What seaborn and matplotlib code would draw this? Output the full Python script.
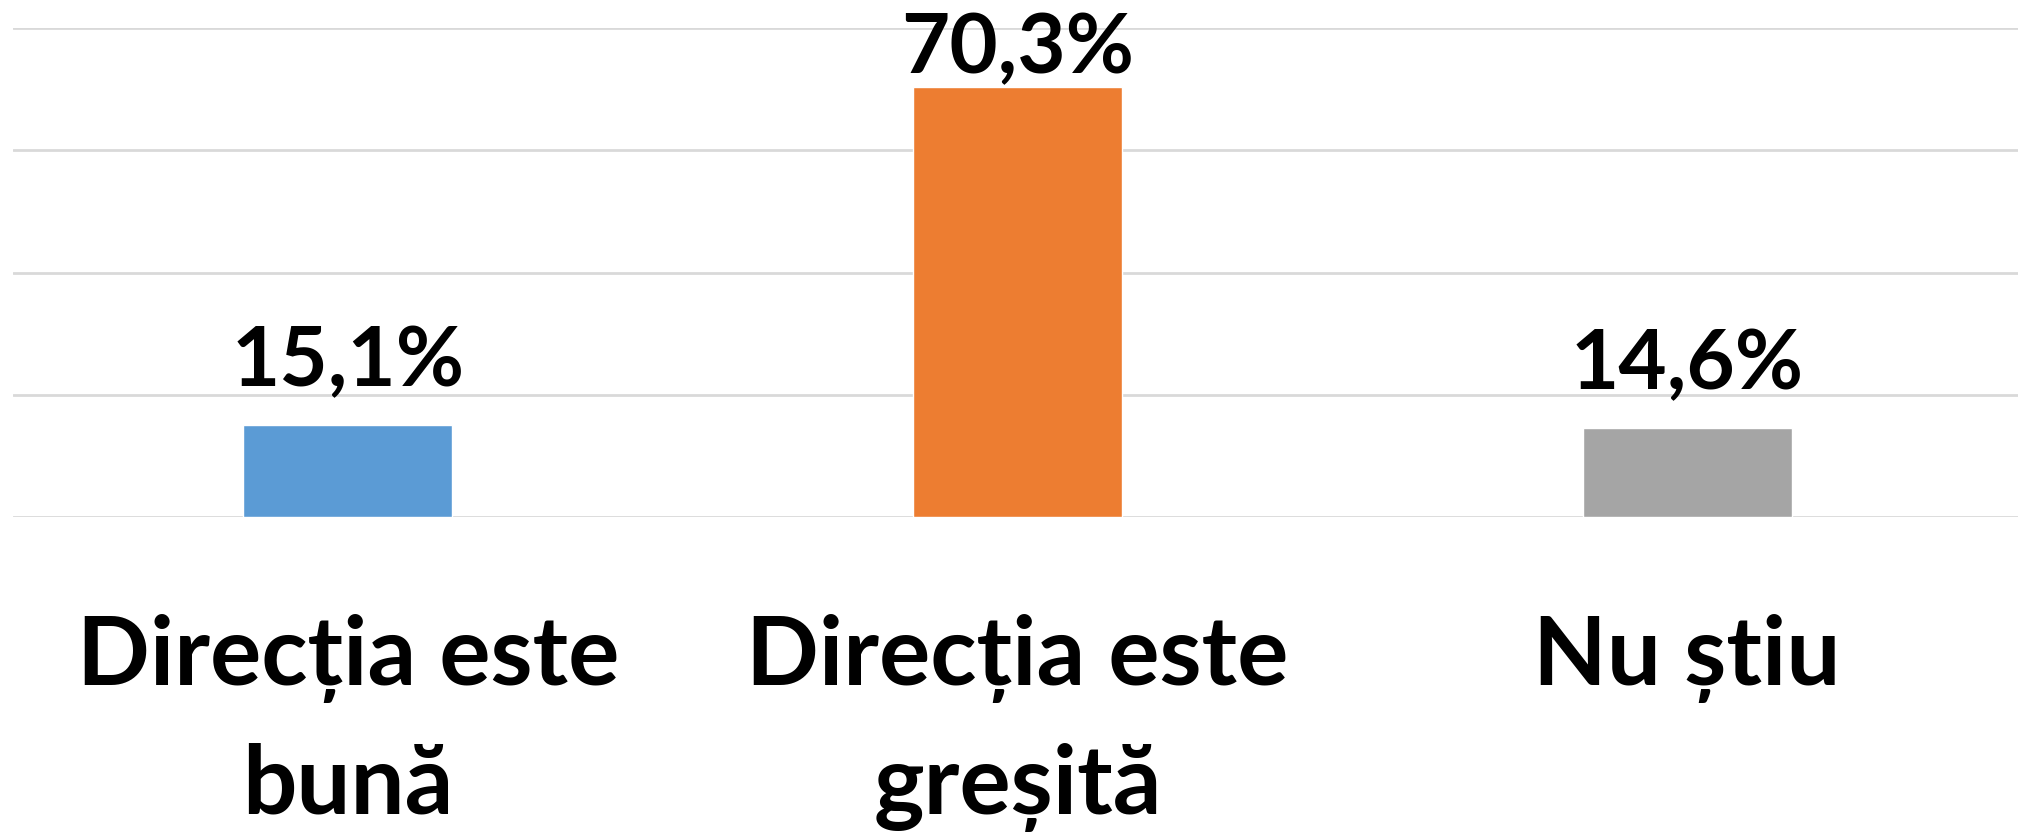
import matplotlib
matplotlib.use("Agg")
import matplotlib.pyplot as plt
import seaborn as sns
import pandas as pd

categories = ["Direcția este\nbună", "Direcția este\ngreșită", "Nu știu"]
values = [15.1, 70.3, 14.6]
value_labels = ["15,1%", "70,3%", "14,6%"]
colors = ["#5B9BD5", "#ED7D31", "#A5A5A5"]

sns.set_theme(style="white")
plt.rcParams["font.family"] = ["Lato", "DejaVu Sans"]

W, H, DPI = 2018, 835, 100
fig = plt.figure(figsize=(W / DPI, H / DPI), dpi=DPI)
ax = fig.add_axes([13 / W, 1 - 517 / H, 2009 / W, (517 - 28) / H])

df = pd.DataFrame({"cat": categories, "val": values})
sns.barplot(data=df, x="cat", y="val", hue="cat", palette=colors,
            width=0.312, legend=False, ax=ax, saturation=1, zorder=3)

ax.set_xlim(-0.5, 2.5)
ax.set_ylim(0, 80)
ax.set_yticks([0, 20, 40, 60, 80])
ax.yaxis.grid(True, color="#D9D9D9", linewidth=2, zorder=0)
ax.set_axisbelow(True)
ax.tick_params(axis="y", left=False, labelleft=False)
ax.tick_params(axis="x", bottom=False, pad=64)
for s in ax.spines.values():
    s.set_visible(False)
ax.set_xlabel("")
ax.set_ylabel("")
for lbl in ax.get_xticklabels():
    lbl.set_fontsize(69)
    lbl.set_fontweight("bold")
    lbl.set_color("black")
    lbl.set_linespacing(1.56)

fig.canvas.draw()
for i, (v, t) in enumerate(zip(values, value_labels)):
    x_px, top_px = ax.transData.transform((i, v))
    base_px = min(top_px + 39, H - 73)
    fig.text(x_px / W, base_px / H, t, ha="center", va="baseline",
             fontsize=60, fontweight="bold", color="black")

fig.savefig("out.png", dpi=DPI, facecolor="white")
